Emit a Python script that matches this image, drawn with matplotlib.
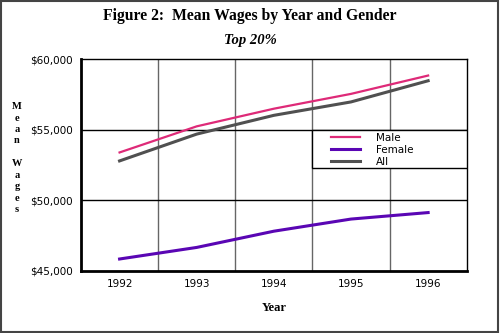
import matplotlib
matplotlib.use("Agg")
import matplotlib.pyplot as plt
from matplotlib.patches import Rectangle

# 読み取った値
years = ["1992", "1993", "1994", "1995", "1996"]
male = [53400, 55250, 56500, 57550, 58850]
female = [45850, 46670, 47820, 48680, 49140]
all_ = [52800, 54700, 56030, 56980, 58480]
yticks = [45000, 50000, 55000, 60000]
ytick_labels = ["$45,000", "$50,000", "$55,000", "$60,000"]

fig = plt.figure(figsize=(5, 3.33), dpi=100)
ax = fig.add_axes([0.162, 0.1862, 0.7714, 0.6357])

x = list(range(len(years)))
ax.plot(x, male, color="#de2a78", lw=1.6, label="Male", zorder=3)
ax.plot(x, female, color="#5a06b4", lw=2.2, label="Female", zorder=3)
ax.plot(x, all_, color="#505050", lw=2.2, label="All", zorder=3)

ax.set_xlim(-0.5, len(years) - 0.5)
ax.set_ylim(45000, 60000)

# グリッド
for b in [i + 0.5 for i in range(len(years) - 1)]:
    ax.axvline(b, color="#666666", lw=1, zorder=1)
for v in yticks[1:-1]:
    ax.axhline(v, color="black", lw=1, zorder=1)

ax.set_xticks(x)
ax.set_xticklabels(years, fontsize=7.5, family="DejaVu Sans")
ax.set_yticks(yticks)
ax.set_yticklabels(ytick_labels, fontsize=7.5, family="DejaVu Sans")
ax.tick_params(length=0, axis="x", pad=6)
ax.tick_params(length=0, axis="y", pad=6)

for s in ["top", "right"]:
    ax.spines[s].set_linewidth(1)
for s in ["left", "bottom"]:
    ax.spines[s].set_linewidth(2)

# 凡例の枠は自前で描く
ax.add_patch(Rectangle((0.6, 0.485), 0.4, 0.182, transform=ax.transAxes,
                       facecolor="white", edgecolor="black", lw=1, zorder=4))
leg = ax.legend(loc="upper left", bbox_to_anchor=(0.64, 0.667),
                frameon=False, prop={"family": "DejaVu Sans", "size": 7.5},
                handlelength=2.8, handletextpad=1.5, labelspacing=0.2,
                borderpad=0.3, borderaxespad=0)
leg.set_zorder(5)

ax.set_xlabel("Year", family="Liberation Serif", fontweight="bold",
              fontsize=9, labelpad=9)

fig.text(0.5, 0.952, "Figure 2:  Mean Wages by Year and Gender",
         ha="center", va="center", family="Liberation Serif",
         fontweight="bold", fontsize=11.3)
fig.text(0.5, 0.877, "Top 20%", ha="center", va="center",
         family="Liberation Serif", fontweight="bold", style="italic",
         fontsize=10.5)

# 縦書きの軸ラベル
fig.text(0.034, 0.525, "\n".join("Mean Wages"), ha="center", va="center",
         family="Liberation Serif", fontweight="bold", fontsize=7.5,
         linespacing=1.35)

fig.patches.append(Rectangle((0.002, 0.003), 0.994, 0.993,
                             transform=fig.transFigure, fill=False,
                             edgecolor="#444444", lw=1.5))

fig.savefig("out.png", dpi=100)
